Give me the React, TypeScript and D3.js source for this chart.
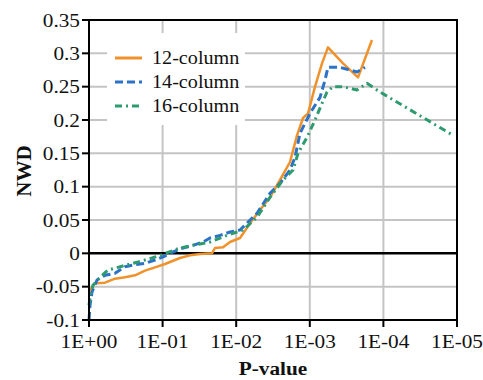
import React from "react";
import * as d3 from "d3";

// -log10(P-value) and NWD for each series
const logP12 = [0, 0.041, 0.082, 0.217, 0.353, 0.489, 0.625, 0.761, 0.897, 1.033, 1.101, 1.236, 1.372, 1.508, 1.671, 1.712, 1.821, 1.916, 2.052, 2.188, 2.323, 2.459, 2.595, 2.731, 2.826, 2.908, 2.976, 3.071, 3.166, 3.247, 3.451, 3.655, 3.804, 3.845];
const nwd12 = [-0.058, -0.051, -0.045, -0.044, -0.038, -0.036, -0.033, -0.026, -0.021, -0.016, -0.013, -0.007, -0.003, -0.001, 0.0, 0.008, 0.009, 0.017, 0.023, 0.045, 0.065, 0.084, 0.11, 0.137, 0.177, 0.203, 0.21, 0.25, 0.285, 0.309, 0.285, 0.264, 0.308, 0.32];

const logP14 = [0, 0.014, 0.041, 0.109, 0.217, 0.353, 0.489, 0.625, 0.761, 0.897, 1.033, 1.141, 1.277, 1.413, 1.549, 1.644, 1.78, 1.916, 2.052, 2.283, 2.459, 2.595, 2.731, 2.799, 2.867, 3.003, 3.139, 3.207, 3.247, 3.41, 3.641, 3.75];
const nwd14 = [-0.1, -0.078, -0.058, -0.04, -0.033, -0.03, -0.02, -0.017, -0.015, -0.01, -0.004, 0.002, 0.008, 0.012, 0.017, 0.023, 0.027, 0.032, 0.035, 0.06, 0.09, 0.105, 0.125, 0.144, 0.18, 0.21, 0.234, 0.26, 0.279, 0.279, 0.272, 0.279];

const logP16 = [0, 0.014, 0.054, 0.149, 0.258, 0.394, 0.489, 0.666, 0.856, 0.965, 1.236, 1.413, 1.644, 1.875, 2.011, 2.092, 2.283, 2.459, 2.636, 2.772, 2.84, 2.962, 3.071, 3.166, 3.234, 3.315, 3.451, 3.641, 3.777, 3.954, 4.932];
const nwd16 = [-0.078, -0.067, -0.048, -0.036, -0.025, -0.021, -0.018, -0.013, -0.007, -0.003, 0.008, 0.012, 0.017, 0.027, 0.032, 0.035, 0.054, 0.084, 0.11, 0.125, 0.15, 0.174, 0.2, 0.225, 0.242, 0.25, 0.25, 0.245, 0.255, 0.242, 0.178];

const seriesNames = ["12-column", "14-column", "16-column"];
const seriesColors = ["#F0922B", "#2C72C7", "#2E9B6F"];
const seriesDash = ["none", "8,4", "7,4,2,4"];

const xTickValues = [1, 1e-1, 1e-2, 1e-3, 1e-4, 1e-5];
const xTickLabels = ["1E+00", "1E-01", "1E-02", "1E-03", "1E-04", "1E-05"];
const yTickValues = [0.35, 0.3, 0.25, 0.2, 0.15, 0.1, 0.05, 0, -0.05, -0.1];
const yTickLabels = ["0.35", "0.3", "0.25", "0.2", "0.15", "0.1", "0.05", "0", "-0.05", "-0.1"];

const W = 483, H = 380;
const M = { left: 89, right: 26, top: 20, bottom: 60 };
const SX = 1.12;
const FONT = "Liberation Serif, Tinos, DejaVu Serif, serif";

export default function App() {
  const x = d3.scaleLog().domain([1, 1e-5]).range([M.left, W - M.right]);
  const y = d3.scaleLinear().domain([-0.1, 0.35]).range([H - M.bottom, M.top]);

  const series = [
    logP12.map((l, i) => [Math.pow(10, -l), nwd12[i]] as [number, number]),
    logP14.map((l, i) => [Math.pow(10, -l), nwd14[i]] as [number, number]),
    logP16.map((l, i) => [Math.pow(10, -l), nwd16[i]] as [number, number]),
  ];
  const line = d3.line<[number, number]>().x(d => x(d[0])).y(d => y(d[1]));

  const x0 = x(1), x1 = x(1e-5), yTop = y(0.35), yBot = y(-0.1);
  const legend = { x: 107, y: 33, w: 138, h: 92 };
  const ts: React.CSSProperties = { fontFamily: FONT };

  return (
    <svg width={W} height={H} style={{ position: "absolute", left: 0, top: 0, background: "#fff" }}>
      <rect x={0} y={0} width={W} height={H} fill="#fff" />
      {yTickValues.filter(v => v !== 0 && v !== 0.35 && v !== -0.1).map(v => (
        <line key={"gy" + v} x1={x0} x2={x1} y1={y(v)} y2={y(v)} stroke="#c4c4c4" strokeWidth={2} />
      ))}
      {xTickValues.slice(1, -1).map(v => (
        <line key={"gx" + v} x1={x(v)} x2={x(v)} y1={yTop} y2={yBot} stroke="#c4c4c4" strokeWidth={2} />
      ))}
      <rect x={legend.x} y={legend.y} width={legend.w} height={legend.h} fill="#fff" />
      <line x1={x0} x2={x1} y1={y(0)} y2={y(0)} stroke="#000" strokeWidth={2.5} />
      {series.map((s, i) => (
        <path key={"s" + i} d={line(s) || ""} fill="none" stroke={seriesColors[i]} strokeWidth={i === 0 ? 2.5 : 3}
          strokeDasharray={seriesDash[i]} strokeLinejoin="round" />
      ))}
      <rect x={x0} y={yTop} width={x1 - x0} height={yBot - yTop} fill="none" stroke="#000" strokeWidth={2} />
      {yTickValues.map((v, i) => (
        <g key={"yt" + v}>
          <line x1={x0 - 7} x2={x0} y1={y(v)} y2={y(v)} stroke="#000" strokeWidth={2} />
          <text transform={`translate(${x0 - 9},${y(v) + 6.5}) scale(${SX},1)`} textAnchor="end"
            style={ts} fontSize={19} fill="#111">{yTickLabels[i]}</text>
        </g>
      ))}
      {xTickValues.map((v, i) => (
        <g key={"xt" + v}>
          <line x1={x(v)} x2={x(v)} y1={yBot} y2={yBot + 7} stroke="#000" strokeWidth={2} />
          <text transform={`translate(${x(v)},${yBot + 28}) scale(${SX},1)`} textAnchor="middle"
            style={ts} fontSize={19} fill="#111">{xTickLabels[i]}</text>
        </g>
      ))}
      {seriesNames.map((n, i) => {
        const cy = 58 + i * 24;
        return (
          <g key={"lg" + i}>
            <line x1={115} x2={142} y1={cy} y2={cy} stroke={seriesColors[i]} strokeWidth={3}
              strokeDasharray={seriesDash[i]} />
            <text transform={`translate(152,${cy + 6}) scale(${SX},1)`} style={ts} fontSize={18} fill="#111">{n}</text>
          </g>
        );
      })}
      <text transform={`translate(${(x0 + x1) / 2},375) scale(${SX},1)`} textAnchor="middle" style={ts}
        fontSize={19} fontWeight="bold" fill="#111">P-value</text>
      <text transform={`translate(31,171) rotate(-90)`} textAnchor="middle" style={ts}
        fontSize={21} fontWeight="bold" fill="#111">NWD</text>
    </svg>
  );
}
